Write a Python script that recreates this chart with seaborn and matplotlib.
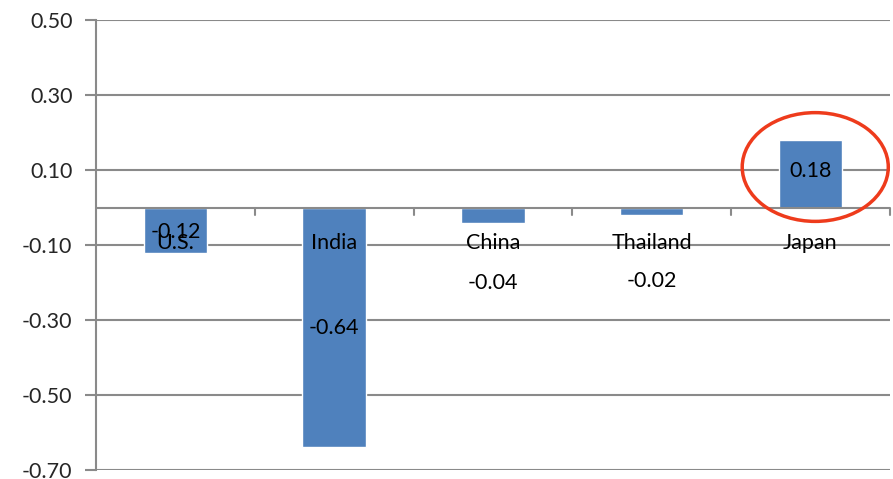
import matplotlib
matplotlib.use("Agg")
import matplotlib.pyplot as plt
from matplotlib.patches import Ellipse
import seaborn as sns
import pandas as pd

countries = ["U.S.", "India", "China", "Thailand", "Japan"]
values = [-0.12, -0.64, -0.04, -0.02, 0.18]
value_labels = ["-0.12", "-0.64", "-0.04", "-0.02", "0.18"]
# vertical placement of each value label (data units)
label_y = [-0.066, -0.32, -0.202, -0.197, 0.098]
y_ticks = [0.50, 0.30, 0.10, -0.10, -0.30, -0.50, -0.70]

sns.set_theme(style="white")
plt.rcParams["font.family"] = ["Lato", "DejaVu Sans"]

grid_col = "#8a8a8a"
bar_col = "#4f81bd"
fs = 15.5

fig = plt.figure(figsize=(8.93, 4.79), dpi=100)
ax = fig.add_axes([0.1075, 0.0188, 0.889, 0.9394])

df = pd.DataFrame({"country": countries, "value": values})
sns.barplot(data=df, x="country", y="value", color=bar_col, width=0.4,
            saturation=1, ax=ax, zorder=3)

ax.set_ylim(-0.70, 0.50)
ax.set_xlim(-0.5, len(countries) - 0.5)
ax.set_yticks(y_ticks)
ax.set_yticklabels([f"{t:.2f}" for t in y_ticks], fontsize=fs)
ax.set_xticks([])
ax.set_xlabel("")
ax.set_ylabel("")

for t in y_ticks:
    ax.axhline(t, color=grid_col, lw=1.5, zorder=1)
ax.axhline(0, color=grid_col, lw=1.5, zorder=4)
ax.tick_params(axis="y", length=8, width=1.5, color=grid_col, pad=9, left=True)

for s in ["top", "right", "bottom"]:
    ax.spines[s].set_visible(False)
ax.spines["left"].set_color(grid_col)
ax.spines["left"].set_linewidth(1.5)

# category boundary ticks on the zero axis
for i in range(len(countries)):
    ax.plot([i + 0.5, i + 0.5], [0, -0.02], color=grid_col, lw=1.5, zorder=4,
            clip_on=False)

for i, (name, lab, ly) in enumerate(zip(countries, value_labels, label_y)):
    ax.text(i, -0.095, name, ha="center", va="center", fontsize=fs,
            color="black", zorder=5)
    ax.text(i, ly, lab, ha="center", va="center", fontsize=fs,
            color="black", zorder=5)

ax.add_patch(Ellipse((4.03, 0.108), 0.92, 0.29, fill=False,
                     edgecolor="#ee3b1c", lw=2.5, zorder=6, clip_on=False))

fig.savefig("out.png", dpi=100)
